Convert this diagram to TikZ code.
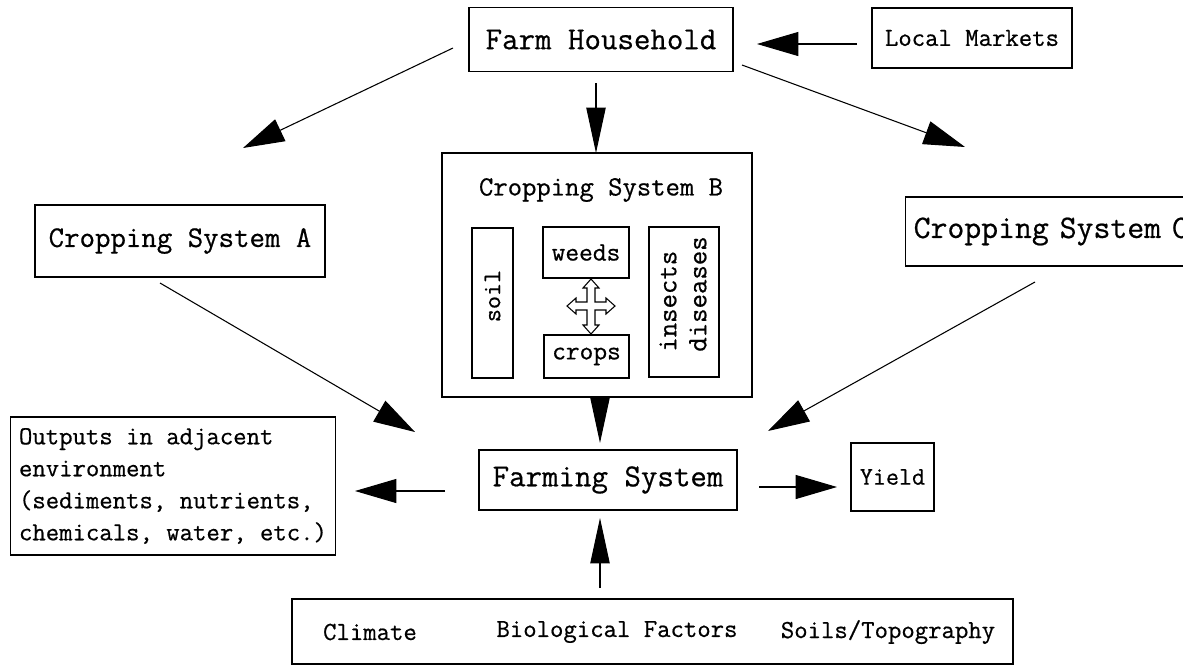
\documentclass[tikz,border=0pt]{standalone}
\usepackage{fontspec}
\setmonofont{Latin Modern Mono}[FakeBold=0.6]
\usetikzlibrary{arrows.meta}
\newcommand\setfs[1]{\fontsize{#1}{#1}\selectfont}
\begin{document}
\begin{tikzpicture}[x=0.75pt,y=-0.75pt,
  box/.style={draw,line width=1pt,inner sep=0pt,font=\ttfamily},
  lbl/.style={inner sep=0pt,font=\ttfamily},
  conn/.style={line width=0.8pt,-{Triangle[length=31pt,width=18pt]}},
  vconn/.style={line width=0.8pt,-{Triangle[length=34pt,width=14.5pt]}}]
\useasboundingbox (0,0) rectangle (1183,668);
\clip (0,0) rectangle (1183,668);

% main boxes
\node[box,minimum width=198pt,minimum height=48pt,font=\ttfamily\setfs{24}] (fh) at (601,39.5) {Farm Household};
\node[box,minimum width=150pt,minimum height=45pt,font=\ttfamily\setfs{19.5}] (lm) at (972,38) {Local Markets};
\node[box,minimum width=217.5pt,minimum height=54pt,font=\ttfamily\setfs{22.5}] (csa) at (180,241) {Cropping System A};
\node[box,anchor=west,inner xsep=6pt,text width=216.75pt,align=left,minimum height=51.75pt,font=\ttfamily\setfs{24.6}] (csc) at (905,231.5) {Cropping System C};
\node[box,minimum width=232.5pt,minimum height=183pt] (csb) at (597,275) {};
\node[lbl,font=\ttfamily\setfs{20.9}] (csbt) at (601,190) {Cropping System B};

% inner boxes of B
\node[box,minimum width=30.75pt,minimum height=112.5pt] (soil) at (492.5,303) {};
\node[lbl,rotate=90,font=\ttfamily\setfs{19}] (soiltxt) at (492.5,296) {soil};
\node[box,minimum width=64.5pt,minimum height=38.25pt,font=\ttfamily\setfs{20}] (weeds) at (586,252.5) {weeds};
\node[box,minimum width=63.75pt,minimum height=32.25pt,font=\ttfamily\setfs{20}] (crops) at (586.5,356.5) {crops};
\node[box,minimum width=52.5pt,minimum height=112.5pt] (ins) at (684,302) {};
\node[lbl,rotate=90,align=left,font=\ttfamily\fontsize{21}{22.5}\selectfont] (instxt) at (683,294) {insects\\diseases};

% hollow cross double arrow between weeds and crops
\coordinate (cross) at (591,306);
\draw[line width=0.8pt,shift={(cross)}]
  (0,-27) -- (8,-18) -- (4,-18) -- (4,-4) -- (15,-4) -- (15,-8) -- (24,0) -- (15,8) -- (15,4) -- (4,4)
  -- (4,19) -- (8,19) -- (0,28) -- (-8,19) -- (-4,19) -- (-4,4) -- (-15,4) -- (-15,8) -- (-24,0)
  -- (-15,-8) -- (-15,-4) -- (-4,-4) -- (-4,-18) -- (-8,-18) -- cycle;

\node[box,minimum width=193.5pt,minimum height=45pt,font=\ttfamily\setfs{24}] (fs) at (608,480) {Farming System};
\node[box,minimum width=62.25pt,minimum height=51pt,font=\ttfamily\setfs{19}] (yield) at (892.5,477) {Yield};
\node[box,minimum width=243.75pt,minimum height=103.5pt,align=left,font=\ttfamily\fontsize{19.5}{24}\selectfont] (out) at (173,486)
  {Outputs in adjacent\\environment\\(sediments, nutrients,\\chemicals, water, etc.)};
\node[box,minimum width=540.75pt,minimum height=48.75pt] (env) at (652.5,631.5) {};
\node[lbl,font=\ttfamily\setfs{19.5}] (clim) at (370,632) {Climate};
\node[lbl,font=\ttfamily\setfs{19.5}] (bio) at (617,632) {Biological Factors};
\node[lbl,font=\ttfamily\setfs{19.5}] (soils) at (888,632) {Soils/Topography};

% connector end points
\coordinate (a1s) at (453,48);   \coordinate (a1e) at (243,148);
\coordinate (a2s) at (596,83);   \coordinate (a2e) at (596,153);
\coordinate (a3s) at (742,65);   \coordinate (a3e) at (965,147);
\coordinate (a4s) at (857,44);   \coordinate (a4e) at (757,44);
\coordinate (a5s) at (160,283);  \coordinate (a5e) at (415,432);
\coordinate (a6s) at (1035,282); \coordinate (a6e) at (768,431);
\coordinate (a7s) at (600,397);  \coordinate (a7e) at (600,443);
\coordinate (a8s) at (445,491);  \coordinate (a8e) at (355,491);
\coordinate (a9s) at (759,487);  \coordinate (a9e) at (837,487);
\coordinate (a10s) at (600,588); \coordinate (a10e) at (600,518);

\draw[conn] (a1s) -- (a1e);
\draw[vconn] (a2s) -- (a2e);
\draw[conn] (a3s) -- (a3e);
\draw[conn] (a4s) -- (a4e);
\draw[conn] (a5s) -- (a5e);
\draw[conn] (a6s) -- (a6e);
\draw[vconn] (a7s) -- (a7e);
\draw[conn] (a8s) -- (a8e);
\draw[conn] (a9s) -- (a9e);
\draw[vconn] (a10s) -- (a10e);
\end{tikzpicture}
\end{document}
